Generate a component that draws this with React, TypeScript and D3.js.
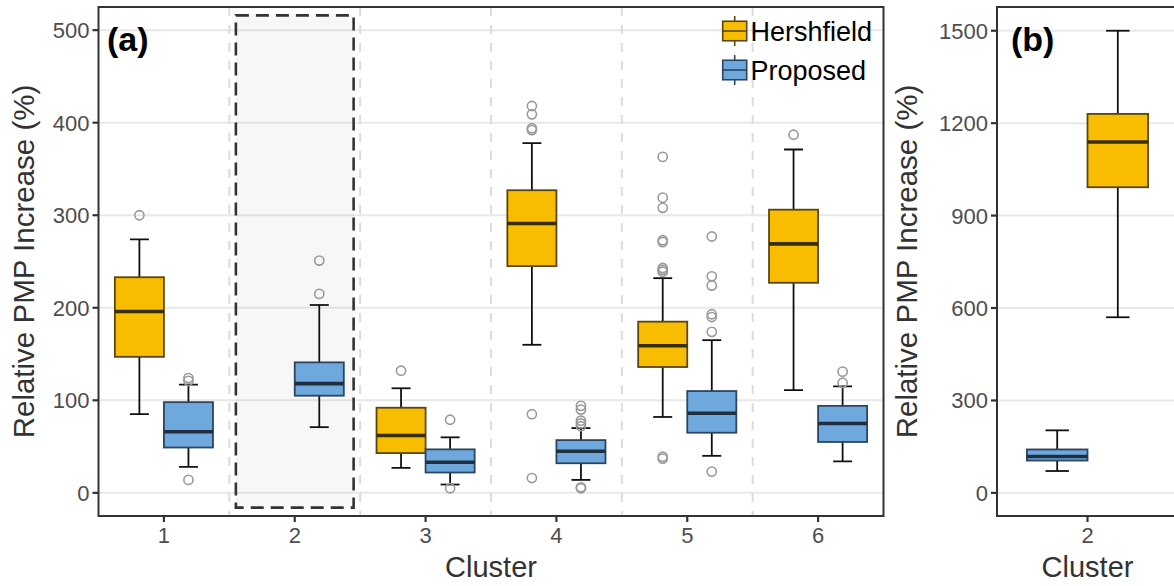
import React from 'react';
import * as d3 from 'd3';

// ---- data -------------------------------------------------------------
const clusters = [1, 2, 3, 4, 5, 6];
const clusterLabels = ['1', '2', '3', '4', '5', '6'];
const seriesNames = ['Hershfield', 'Proposed'];

// Hershfield boxplot statistics per cluster (cluster 2 is shown in panel b)
const hershLower = [85, null, 27, 160, 82, 111];
const hershQ1 = [147, null, 43, 245, 136, 227];
const hershMedian = [196, null, 62, 291, 159, 269];
const hershQ3 = [233, null, 92, 327, 185, 306];
const hershUpper = [274, null, 113, 378, 232, 371];
const hershOutliers = [
  [300],
  [],
  [132],
  [418, 409, 394, 392, 85, 16],
  [363, 319, 308, 273, 271, 243, 241, 239, 39, 37],
  [387],
];

// Proposed boxplot statistics per cluster
const propLower = [28, 71, 9, 14, 40, 34];
const propQ1 = [49, 105, 22, 32, 65, 55];
const propMedian = [66, 118, 33, 45, 86, 75];
const propQ3 = [98, 141, 47, 57, 110, 94];
const propUpper = [117, 203, 60, 70, 165, 115];
const propOutliers = [
  [124, 121, 14],
  [251, 215],
  [79, 5],
  [94, 90, 78, 75, 72, 6, 5],
  [277, 234, 224, 193, 190, 174, 23],
  [131, 119],
];

// Panel (b): cluster 2 on its own scale
const bClusterLabel = '2';
const bHersh = { lower: 570, q1: 992, median: 1139, q3: 1230, upper: 1500 };
const bProp = { lower: 71, q1: 105, median: 118, q3: 141, upper: 203 };

const yTicksA = [0, 100, 200, 300, 400, 500];
const yTicksB = [0, 300, 600, 900, 1200, 1500];

// highlighted region around cluster 2 in panel (a), data units
const highlightX = [1.55, 2.45];
const highlightY = [-16, 516];

// ---- styling ----------------------------------------------------------
const FONT = '"Liberation Sans", Arial, Helvetica, sans-serif';
const FILL = ['#F8BD00', '#6FA8DC'];
const EDGE = ['#5a4608', '#2c4560'];
const MEDIAN = ['#3a2e05', '#1f2f40'];
const DODGE = 0.1875;
const BOX_W = 0.375;
const CAP_W = 0.145;

const W = 1174;
const H = 586;

type Stats = { lower: number; q1: number; median: number; q3: number; upper: number };

function Box({ cx, xs, ys, s, k, outliers }: {
  cx: number; xs: d3.ScaleLinear<number, number>; ys: d3.ScaleLinear<number, number>;
  s: Stats; k: number; outliers: number[];
}) {
  const unit = xs(1) - xs(0);
  const px = xs(cx);
  const bw = BOX_W * unit;
  const cw = CAP_W * unit;
  return (
    <g>
      <line x1={px} x2={px} y1={ys(s.upper)} y2={ys(s.q3)} stroke="#111" strokeWidth={1.8} />
      <line x1={px} x2={px} y1={ys(s.q1)} y2={ys(s.lower)} stroke="#111" strokeWidth={1.8} />
      <line x1={px - cw / 2} x2={px + cw / 2} y1={ys(s.upper)} y2={ys(s.upper)} stroke="#111" strokeWidth={1.8} />
      <line x1={px - cw / 2} x2={px + cw / 2} y1={ys(s.lower)} y2={ys(s.lower)} stroke="#111" strokeWidth={1.8} />
      <rect x={px - bw / 2} y={ys(s.q3)} width={bw} height={ys(s.q1) - ys(s.q3)}
        fill={FILL[k]} stroke={EDGE[k]} strokeWidth={1.8} />
      <line x1={px - bw / 2} x2={px + bw / 2} y1={ys(s.median)} y2={ys(s.median)} stroke={MEDIAN[k]} strokeWidth={3.6} />
      {outliers.map((v, i) => (
        <circle key={i} cx={px} cy={ys(v)} r={4.6} fill="none" stroke="#9a9a9a" strokeWidth={1.6} />
      ))}
    </g>
  );
}

export default function App() {
  // panel (a)
  const aL = 98.5, aR = 883.5, top = 7, bottom = 516;
  const xa = d3.scaleLinear().domain([0.5, 6.5]).range([aL, aR]);
  const ya = d3.scaleLinear().domain([-25, 525]).range([bottom, top]);

  // panel (b)
  const bL = 997, bR = 1178;
  const xb = d3.scaleLinear().domain([0.44, 1.56]).range([bL, bR]);
  const yb = d3.scaleLinear().domain([-75, 1577]).range([bottom, top]);

  const hershStats = clusters.map((_, i) =>
    hershMedian[i] == null ? null : {
      lower: hershLower[i] as number, q1: hershQ1[i] as number, median: hershMedian[i] as number,
      q3: hershQ3[i] as number, upper: hershUpper[i] as number,
    });
  const propStats = clusters.map((_, i) => ({
    lower: propLower[i], q1: propQ1[i], median: propMedian[i], q3: propQ3[i], upper: propUpper[i],
  }));

  const separators = d3.range(1.5, 6, 1);

  return (
    <svg width={W} height={H} style={{ position: 'absolute', left: 0, top: 0, background: '#fff' }}
      fontFamily={FONT}>
      <rect width={W} height={H} fill="#fff" />

      {/* ---------- panel (a) ---------- */}
      <defs>
        <clipPath id="clipA"><rect x={aL} y={top} width={aR - aL} height={bottom - top} /></clipPath>
        <clipPath id="clipB"><rect x={bL} y={top} width={bR - bL} height={bottom - top} /></clipPath>
      </defs>
      <g clipPath="url(#clipA)">
        {yTicksA.map(t => (
          <line key={t} x1={aL} x2={aR} y1={ya(t)} y2={ya(t)} stroke="#e8e8e8" strokeWidth={2} />
        ))}
        {separators.map(s => (
          <line key={s} x1={xa(s)} x2={xa(s)} y1={top} y2={bottom} stroke="#dcdcdc" strokeWidth={2} strokeDasharray="9,9" />
        ))}
        <rect x={xa(highlightX[0])} y={ya(highlightY[1])} width={xa(highlightX[1]) - xa(highlightX[0])}
          height={ya(highlightY[0]) - ya(highlightY[1])} fill="#000" fillOpacity={0.03}
          stroke="#333" strokeWidth={2.6} strokeDasharray="13,7" />
        {clusters.map((c, i) => (
          <g key={c}>
            {hershStats[i] && (
              <Box cx={c - DODGE} xs={xa} ys={ya} s={hershStats[i] as Stats} k={0} outliers={hershOutliers[i]} />
            )}
            <Box cx={c + DODGE} xs={xa} ys={ya} s={propStats[i]} k={1} outliers={propOutliers[i]} />
          </g>
        ))}
      </g>
      <rect x={aL} y={top} width={aR - aL} height={bottom - top} fill="none" stroke="#333" strokeWidth={2} />

      {/* y axis (a) */}
      {yTicksA.map(t => (
        <g key={t}>
          <line x1={aL - 6} x2={aL} y1={ya(t)} y2={ya(t)} stroke="#333" strokeWidth={2.2} />
          <text x={aL - 9} y={ya(t)} dy="0.36em" textAnchor="end" fontSize={22} fill="#4d4d4d">{t}</text>
        </g>
      ))}
      {/* x axis (a) */}
      {clusters.map((c, i) => (
        <g key={c}>
          <line x1={xa(c)} x2={xa(c)} y1={bottom} y2={bottom + 6} stroke="#333" strokeWidth={2.2} />
          <text x={xa(c)} y={543} textAnchor="middle" fontSize={22} fill="#4d4d4d">{clusterLabels[i]}</text>
        </g>
      ))}
      <text x={(aL + aR) / 2} y={577} textAnchor="middle" fontSize={29} fill="#333">Cluster</text>
      <text transform={`translate(33.5,${(top + bottom) / 2}) rotate(-90)`} textAnchor="middle" fontSize={29.5} fill="#333">
        Relative PMP Increase (%)
      </text>
      <text x={107} y={51} fontSize={34} fontWeight="bold" fill="#000">(a)</text>

      {/* legend */}
      {seriesNames.map((name, k) => {
        const cy = 31 + k * 39;
        const kx = 722.7, kw = 24, kh = 19.5;
        return (
          <g key={name}>
            <line x1={kx + kw / 2} x2={kx + kw / 2} y1={cy - 15} y2={cy + 15} stroke={EDGE[k]} strokeWidth={1.6} />
            <rect x={kx} y={cy - kh / 2} width={kw} height={kh} fill={FILL[k]} stroke={EDGE[k]} strokeWidth={1.6} />
            <line x1={kx} x2={kx + kw} y1={cy} y2={cy} stroke={EDGE[k]} strokeWidth={1.6} />
            <text x={750.5} y={cy} dy="0.36em" fontSize={27} fill="#000">{name}</text>
          </g>
        );
      })}

      {/* ---------- panel (b) ---------- */}
      <g clipPath="url(#clipB)">
        {yTicksB.map(t => (
          <line key={t} x1={bL} x2={bR} y1={yb(t)} y2={yb(t)} stroke="#e8e8e8" strokeWidth={2} />
        ))}
        <Box cx={1 - DODGE} xs={xb} ys={yb} s={bProp} k={1} outliers={[]} />
        <Box cx={1 + DODGE} xs={xb} ys={yb} s={bHersh} k={0} outliers={[]} />
      </g>
      <rect x={bL} y={top} width={bR - bL} height={bottom - top} fill="none" stroke="#333" strokeWidth={2} />
      {yTicksB.map(t => (
        <g key={t}>
          <line x1={bL - 6} x2={bL} y1={yb(t)} y2={yb(t)} stroke="#333" strokeWidth={2.2} />
          <text x={bL - 9} y={yb(t)} dy="0.36em" textAnchor="end" fontSize={22} fill="#4d4d4d">{t}</text>
        </g>
      ))}
      <line x1={xb(1)} x2={xb(1)} y1={bottom} y2={bottom + 6} stroke="#333" strokeWidth={2.2} />
      <text x={xb(1)} y={543} textAnchor="middle" fontSize={22} fill="#4d4d4d">{bClusterLabel}</text>
      <text x={xb(1)} y={577} textAnchor="middle" fontSize={29} fill="#333">Cluster</text>
      <text transform={`translate(917,${(top + bottom) / 2}) rotate(-90)`} textAnchor="middle" fontSize={29.5} fill="#333">
        Relative PMP Increase (%)
      </text>
      <text x={1011} y={51} fontSize={34} fontWeight="bold" fill="#000">(b)</text>
    </svg>
  );
}
